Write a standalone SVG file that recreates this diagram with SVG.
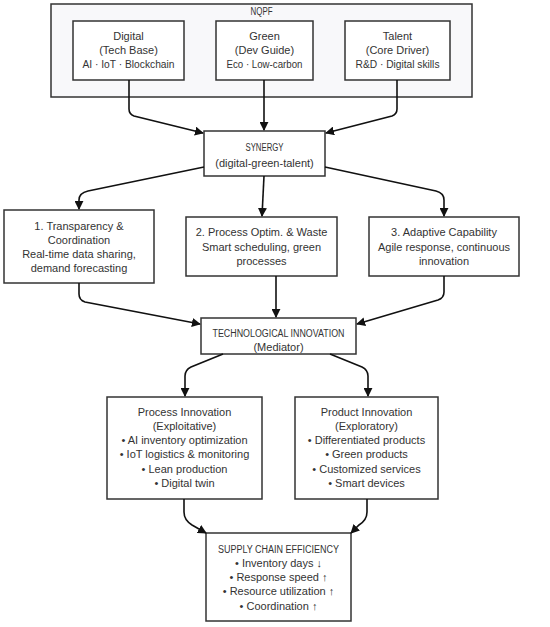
<svg xmlns="http://www.w3.org/2000/svg" width="550" height="627" viewBox="0 0 550 627">
<style>
text{font-family:"Liberation Sans","DejaVu Sans",sans-serif;font-size:11px;fill:#333;text-anchor:middle}
text.cap{font-size:10px}
.box{fill:#fff;stroke:#333;stroke-width:1.5}
.cont{fill:#f8f8fa;stroke:#333;stroke-width:1.5}
.edge{fill:none;stroke:#111;stroke-width:1.6;marker-end:url(#arr)}
</style>
<defs>
<marker id="arr" viewBox="0 0 10 10" refX="9" refY="5" markerWidth="9" markerHeight="9" markerUnits="userSpaceOnUse" orient="auto">
<path d="M0,0 L10,5 L0,10 z" fill="#111"/>
</marker>
</defs>
<rect x="0" y="0" width="550" height="627" fill="#fff"/>
<g id="nqpf">
<rect class="cont" x="51" y="4" width="421" height="93"/>
<text class="cap" x="261.5" y="14.5" textLength="22" lengthAdjust="spacingAndGlyphs">NQPF</text>
</g>
<g id="digital">
<rect class="box" x="73" y="21" width="111" height="59"/>
<text x="128.5" y="40">Digital</text>
<text x="128.5" y="54">(Tech Base)</text>
<text x="128.5" y="68" textLength="92" lengthAdjust="spacingAndGlyphs">AI · IoT · Blockchain</text>
</g>
<g id="green">
<rect class="box" x="216" y="21" width="97" height="59"/>
<text x="264.5" y="40">Green</text>
<text x="264.5" y="54">(Dev Guide)</text>
<text x="264.5" y="68" textLength="76" lengthAdjust="spacingAndGlyphs">Eco · Low-carbon</text>
</g>
<g id="talent">
<rect class="box" x="345" y="21" width="105" height="59"/>
<text x="397.5" y="40">Talent</text>
<text x="397.5" y="54">(Core Driver)</text>
<text x="397.5" y="68" textLength="84" lengthAdjust="spacingAndGlyphs">R&amp;D · Digital skills</text>
</g>
<g id="synergy">
<rect class="box" x="204" y="131" width="121" height="45"/>
<text class="cap" x="264.5" y="150.5" textLength="38" lengthAdjust="spacingAndGlyphs">SYNERGY</text>
<text x="264.5" y="167">(digital-green-talent)</text>
</g>
<g id="m1">
<rect class="box" x="4" y="210" width="150" height="73"/>
<text x="79" y="230">1. Transparency &amp;</text>
<text x="79" y="244">Coordination</text>
<text x="79" y="258">Real-time data sharing,</text>
<text x="79" y="272">demand forecasting</text>
</g>
<g id="m2">
<rect class="box" x="186" y="217" width="151" height="59"/>
<text x="261.5" y="236">2. Process Optim. &amp; Waste</text>
<text x="261.5" y="251">Smart scheduling, green</text>
<text x="261.5" y="265">processes</text>
</g>
<g id="m3">
<rect class="box" x="369" y="217" width="150" height="59"/>
<text x="444" y="236">3. Adaptive Capability</text>
<text x="444" y="251">Agile response, continuous</text>
<text x="444" y="265">innovation</text>
</g>
<g id="tech">
<rect class="box" x="201" y="318" width="155" height="36"/>
<text class="cap" x="278.5" y="336.5" textLength="132" lengthAdjust="spacingAndGlyphs">TECHNOLOGICAL INNOVATION</text>
<text x="278.5" y="351">(Mediator)</text>
</g>
<g id="process">
<rect class="box" x="107" y="397" width="155" height="102"/>
<text x="184.5" y="416">Process Innovation</text>
<text x="184.5" y="430">(Exploitative)</text>
<text x="184.5" y="444">• AI inventory optimization</text>
<text x="184.5" y="458">• IoT logistics &amp; monitoring</text>
<text x="184.5" y="473">• Lean production</text>
<text x="184.5" y="487">• Digital twin</text>
</g>
<g id="product">
<rect class="box" x="295" y="397" width="143" height="102"/>
<text x="366.5" y="416">Product Innovation</text>
<text x="366.5" y="430">(Exploratory)</text>
<text x="366.5" y="444">• Differentiated products</text>
<text x="366.5" y="458">• Green products</text>
<text x="366.5" y="473">• Customized services</text>
<text x="366.5" y="487">• Smart devices</text>
</g>
<g id="sce">
<rect class="box" x="206" y="533" width="145" height="88"/>
<text class="cap" x="278.5" y="552.5" textLength="121" lengthAdjust="spacingAndGlyphs">SUPPLY CHAIN EFFICIENCY</text>
<text x="278.5" y="567">• Inventory days ↓</text>
<text x="278.5" y="581">• Response speed ↑</text>
<text x="278.5" y="595">• Resource utilization ↑</text>
<text x="278.5" y="610">• Coordination ↑</text>
</g>
<g id="connectors">
<path class="edge" d="M129,80 V109 Q129,114 134,116 L203,133"/>
<path class="edge" d="M264,80 V130"/>
<path class="edge" d="M397,80 V109 Q397,114 392,116 L326,133"/>
<path class="edge" d="M204,167 L88,191 Q79,193 79,200 V209"/>
<path class="edge" d="M264,176 L262,216"/>
<path class="edge" d="M325,167 L436,191 Q444,193 444,200 V216"/>
<path class="edge" d="M79,283 V294 Q79,300 85,302 L200,324"/>
<path class="edge" d="M276,276 V317"/>
<path class="edge" d="M444,276 V292 Q444,298 438,300 L357,324"/>
<path class="edge" d="M223,354 L191,367 Q185,370 185,376 V396"/>
<path class="edge" d="M330,354 L362,367 Q368,370 368,376 V396"/>
<path class="edge" d="M184,499 V512 Q184,520 192,525 L206,533"/>
<path class="edge" d="M367,499 V512 Q367,520 359,525 L351,533"/>
</g>
</svg>
